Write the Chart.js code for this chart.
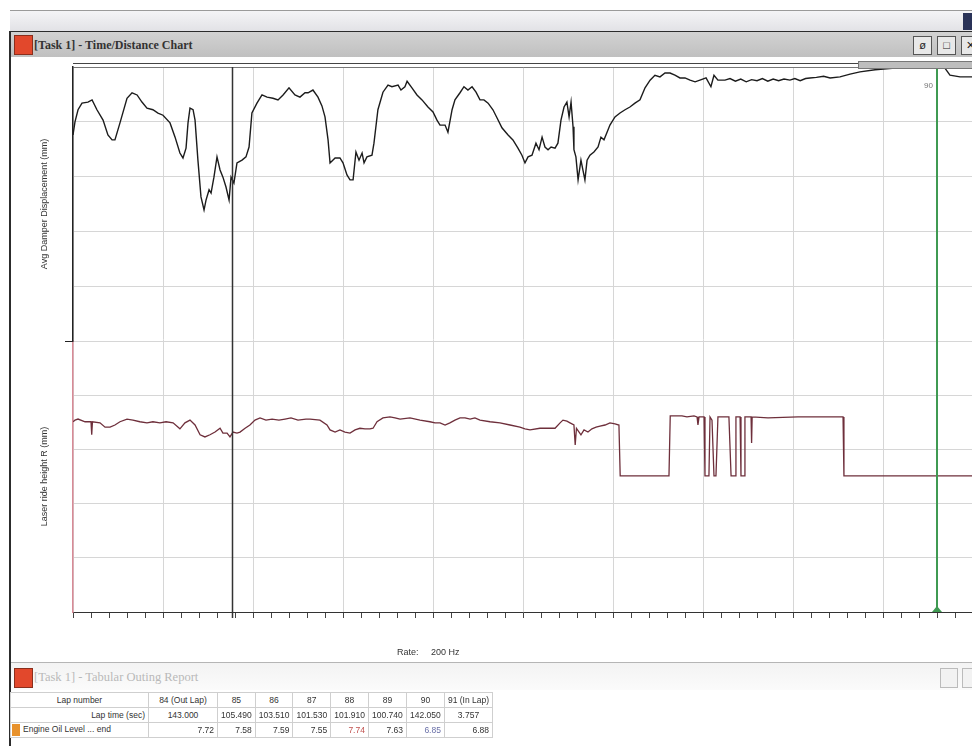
<!DOCTYPE html>
<html lang="en">
<head>
<meta charset="UTF-8">
<title>[Task 1] - Time/Distance Chart</title>
<script src="https://cdn.jsdelivr.net/npm/chart.js"></script>
<style>
    html, body { margin: 0; padding: 0; background: #fff; overflow: hidden; width: 972px; height: 746px;
                 font-family: "Liberation Sans", Arial, sans-serif; }
    .abs { position: absolute; }
    /* window chrome */
    #appbar { left: 10px; top: 10px; width: 970px; height: 20px; border-top: 1px solid #9a9a9a;
              background: linear-gradient(#f4f4f6, #e2e2e6); }
    #appicon { left: 963px; top: 13px; width: 12px; height: 17px; background: #2a3358; }
    #frameLeft { left: 9px; top: 31px; width: 2px; height: 715px; background: #2c2c2c; }
    #titlebar { left: 11px; top: 31px; width: 970px; height: 25px; border-top: 1px solid #2c2c2c;
                background: linear-gradient(#d2d2d2, #c0c0c0); }
    .icon { width: 17px; height: 18px; background: #e2482c; border: 1px solid #8a2e1c; }
    .ttl { font-family: "Liberation Serif", "Times New Roman", serif; font-size: 12px; font-weight: bold;
           color: #333; white-space: nowrap; }
    .btn { width: 17px; height: 17px; border: 1px solid #555; background: #e8e8e8;
           font-size: 11px; line-height: 17px; text-align: center; color: #222; }
    #plotTop { left: 73px; top: 63px; width: 900px; height: 0; border-top: 1px solid #444; }
    #lapBand { left: 858px; top: 61px; width: 120px; height: 6px; background: #bdbdbd; border: 1px solid #777; }
    #rate { left: 397px; top: 647px; font-size: 9px; color: #333; white-space: pre; }
    /* lower panel */
    #sep { left: 11px; top: 662px; width: 970px; height: 0; border-top: 1px solid #b5b5b5; }
    #tabbar { left: 11px; top: 663px; width: 970px; height: 27px; background: linear-gradient(#f3f3f3, #fbfbfb); }
    .fbtn { width: 16px; height: 18px; border: 1px solid #bbb; background: #f2f2f2; }
    table { border-collapse: collapse; font-size: 8.5px; color: #333; table-layout: fixed; }
    td { border: 1px solid #cfcfcf; height: 14px; padding: 0 3px; white-space: nowrap; overflow: hidden; }
    #outing { left: 10px; top: 692px; }
</style>
</head>
<body>
    <div class="abs" id="appbar"></div>
    <div class="abs" id="appicon"></div>
    <div class="abs" id="titlebar"></div>
    <div class="abs icon" style="left:14px; top:35px;"></div>
    <div class="abs ttl" style="left:34px; top:38px;">[Task 1] - Time/Distance Chart</div>
    <div class="abs btn" style="left:913px; top:36px;">&#248;</div>
    <div class="abs btn" style="left:937px; top:36px;">&#9633;</div>
    <div class="abs btn" style="left:961px; top:36px;">&#10005;</div>
    <div class="abs" id="frameLeft"></div>

    <canvas id="tdChart" class="abs" style="left:12px; top:60px;" width="961" height="600"></canvas>
    <div class="abs" id="plotTop"></div>
    <div class="abs" id="lapBand"></div>
    <div class="abs" id="rate">Rate:     200 Hz</div>

    <div class="abs" id="sep"></div>
    <div class="abs" id="tabbar"></div>
    <div class="abs icon" style="left:14px; top:668px;"></div>
    <div class="abs ttl" style="left:34px; top:670px; color:#b9b9b9; font-weight:normal; font-size:12.5px;">[Task 1] - Tabular Outing Report</div>
    <div class="abs fbtn" style="left:940px; top:668px;"></div>
    <div class="abs fbtn" style="left:962px; top:668px;"></div>
    <table class="abs" id="outing"></table>

<script>
    // distance (m) / value (mm)
    const damperTrace = [[0,37.6],[11,40.0],[28,42.2],[50,43.4],[83,43.6],[106,44.0],[133,42.2],[167,40.3],[194,37.6],[217,36.7],[233,36.7],[261,39.8],[300,44.3],[328,45.3],[356,44.9],[383,43.6],[411,42.5],[444,42.2],[472,41.6],[500,41.2],[539,39.8],[567,37.2],[594,34.3],[611,33.4],[628,35.2],[639,39.8],[650,42.5],[667,42.2],[678,40.3],[694,33.0],[711,26.3],[728,23.9],[739,25.7],[756,27.6],[767,27.0],[783,29.9],[800,33.6],[817,31.2],[833,29.9],[850,28.1],[867,25.7],[878,29.9],[894,28.8],[911,32.5],[939,33.0],[961,33.6],[978,35.4],[994,41.6],[1022,43.4],[1050,44.9],[1078,44.5],[1111,44.3],[1139,44.0],[1167,44.9],[1200,46.2],[1233,44.9],[1261,44.5],[1289,45.3],[1306,45.3],[1333,45.8],[1361,44.5],[1383,42.9],[1400,40.9],[1417,36.7],[1428,32.5],[1456,33.4],[1483,33.4],[1500,32.5],[1522,30.3],[1539,29.4],[1556,29.4],[1572,34.5],[1589,33.0],[1606,34.3],[1617,32.5],[1633,33.6],[1661,33.9],[1672,36.1],[1694,42.2],[1722,45.4],[1750,46.7],[1772,46.4],[1806,46.7],[1822,45.8],[1844,46.4],[1856,47.4],[1883,46.2],[1911,44.9],[1939,44.0],[1972,42.7],[2000,41.8],[2022,40.3],[2039,39.4],[2067,39.4],[2083,38.1],[2106,42.2],[2122,44.0],[2150,45.3],[2172,46.4],[2194,45.8],[2217,46.4],[2239,45.4],[2261,44.0],[2283,44.0],[2306,43.4],[2333,42.2],[2356,40.7],[2383,38.9],[2417,37.6],[2444,36.7],[2472,35.2],[2494,33.9],[2511,32.5],[2528,33.6],[2550,33.9],[2572,36.1],[2589,34.9],[2606,37.2],[2622,35.4],[2639,34.9],[2656,35.4],[2678,35.2],[2694,36.1],[2711,40.3],[2728,42.7],[2744,43.6],[2756,40.9],[2767,43.6],[2778,39.1],[2783,34.9],[2794,33.6],[2806,29.4],[2822,33.0],[2833,31.2],[2844,29.4],[2856,33.0],[2872,33.9],[2894,34.5],[2917,35.4],[2933,37.2],[2950,36.7],[2967,38.1],[2983,39.4],[3011,40.9],[3039,41.6],[3067,42.2],[3094,42.7],[3122,43.4],[3150,44.0],[3178,46.2],[3206,47.6],[3233,48.5],[3261,48.2],[3289,48.9],[3317,48.9],[3344,48.5],[3372,48.0],[3400,48.0],[3428,47.6],[3456,47.3],[3483,47.6],[3517,48.0],[3544,46.4],[3561,48.5],[3583,47.6],[3622,47.6],[3650,47.9],[3680,47.4],[3710,47.8],[3740,47.3],[3770,47.7],[3800,47.5],[3830,47.9],[3860,47.4],[3890,47.8],[3920,47.5],[3950,47.8],[3983,47.6],[4010,47.9],[4040,47.5],[4070,47.9],[4094,48.0],[4130,48.1],[4170,48.3],[4206,48.0],[4261,48.2],[4317,48.7],[4372,49.1],[4456,49.5],[4567,49.8],[4706,50.0],[4789,50.0],[4844,49.8],[4872,48.5],[4928,48.2],[5000,48.2]];

    const rideHeightTrace = [[0,35.1],[11,35.4],[28,35.6],[67,35.1],[100,35.1],[104,32.7],[108,35.1],[150,34.9],[178,34.1],[206,34.1],[233,34.5],[261,35.1],[300,35.6],[333,35.4],[372,35.1],[411,34.9],[444,35.1],[483,34.9],[517,35.1],[556,34.9],[594,33.8],[622,34.9],[650,35.4],[678,34.5],[706,32.7],[733,32.3],[761,32.7],[789,33.2],[817,33.9],[833,33.0],[856,33.0],[872,32.3],[889,33.2],[911,33.0],[928,33.2],[956,33.9],[983,34.5],[1011,35.4],[1039,35.8],[1072,35.4],[1106,35.6],[1144,35.4],[1178,35.6],[1211,35.8],[1250,35.4],[1294,35.6],[1317,35.6],[1372,35.4],[1411,34.5],[1428,33.6],[1456,33.2],[1483,33.6],[1511,33.2],[1539,33.0],[1567,33.6],[1594,33.9],[1622,33.8],[1650,33.8],[1667,33.9],[1689,35.1],[1722,35.8],[1761,36.0],[1789,35.8],[1817,35.6],[1872,35.8],[1928,35.4],[1983,35.1],[2011,34.9],[2039,34.9],[2067,34.5],[2094,34.9],[2122,35.4],[2150,35.8],[2178,35.8],[2206,35.6],[2233,35.8],[2261,35.4],[2317,35.1],[2372,34.9],[2428,34.5],[2483,34.1],[2511,33.8],[2539,33.6],[2594,33.9],[2650,33.9],[2678,33.9],[2706,34.9],[2722,35.4],[2744,35.2],[2761,34.9],[2783,34.5],[2790,30.8],[2797,33.9],[2822,32.7],[2839,33.6],[2861,33.2],[2883,33.8],[2906,34.1],[2928,34.3],[2956,34.5],[2983,34.9],[3011,34.7],[3033,34.5],[3040,25.1],[3311,25.1],[3318,36.2],[3383,36.2],[3411,36.0],[3450,36.2],[3467,36.0],[3472,34.5],[3478,36.0],[3506,36.0],[3511,25.1],[3533,25.1],[3539,36.0],[3550,35.4],[3561,25.1],[3572,25.1],[3583,36.0],[3644,36.0],[3656,25.1],[3678,25.1],[3683,36.0],[3706,36.0],[3711,25.1],[3728,25.1],[3733,36.0],[3767,36.0],[3770,31.2],[3773,36.0],[3861,35.8],[4028,36.0],[4194,36.0],[4278,36.0],[4283,25.1],[5000,25.1]];

    const cursorDistance = 883;
    const lapMarkerDistance = 4800;
    const lapMarkerLabel = '90';

    // tabular outing report
    const lapNumbers = ['84 (Out Lap)', '85', '86', '87', '88', '89', '90', '91 (In Lap)'];
    const lapTimes = ['143.000', '105.490', '103.510', '101.530', '101.910', '100.740', '142.050', '3.757'];
    const oilLevelEnd = ['7.72', '7.58', '7.59', '7.55', '7.74', '7.63', '6.85', '6.88'];

    const toPoints = arr => arr.map(p => ({ x: p[0], y: p[1] }));

    // cursor + lap marker lines
    const markerPlugin = {
        id: 'markers',
        afterDatasetsDraw(chart) {
            const { ctx, chartArea, scales } = chart;
            const xc = Math.round(scales.x.getPixelForValue(cursorDistance)) + 0.5;
            const xl = Math.round(scales.x.getPixelForValue(lapMarkerDistance));
            ctx.save();
            ctx.strokeStyle = '#333';
            ctx.lineWidth = 1.5;
            ctx.beginPath();
            ctx.moveTo(xc, chartArea.top);
            ctx.lineTo(xc, chartArea.bottom + 6);
            ctx.stroke();

            ctx.strokeStyle = '#3f9a52';
            ctx.lineWidth = 2;
            ctx.beginPath();
            ctx.moveTo(xl, chartArea.top);
            ctx.lineTo(xl, chartArea.bottom);
            ctx.stroke();
            ctx.fillStyle = '#3f9a52';
            ctx.beginPath();
            ctx.moveTo(xl - 5, chartArea.bottom);
            ctx.lineTo(xl + 5, chartArea.bottom);
            ctx.lineTo(xl, chartArea.bottom - 6);
            ctx.closePath();
            ctx.fill();

            ctx.fillStyle = '#777';
            ctx.font = '8px "Liberation Sans"';
            ctx.textAlign = 'right';
            ctx.fillText(lapMarkerLabel, xl - 4, chartArea.top + 21);
            ctx.restore();
        }
    };

    const ctx = document.getElementById('tdChart').getContext('2d');
    const tdChart = new Chart(ctx, {
        type: 'line',
        data: {
            datasets: [
                {
                    label: 'Laser ride height R',
                    data: toPoints(rideHeightTrace),
                    yAxisID: 'yRide',
                    borderColor: '#6e2f3b',
                    borderWidth: 1.3,
                    pointRadius: 0,
                    tension: 0
                },
                {
                    label: 'Avg Damper Displacement',
                    data: toPoints(damperTrace),
                    yAxisID: 'yDamper',
                    borderColor: '#1c1c1c',
                    borderWidth: 1.4,
                    pointRadius: 0,
                    tension: 0
                }
            ]
        },
        options: {
            responsive: false,
            animation: false,
            layout: { padding: { top: 7, right: 0, left: 0, bottom: 0 } },
            plugins: { legend: { display: false }, tooltip: { enabled: false } },
            scales: {
                x: {
                    type: 'linear',
                    min: 0,
                    max: 5000,
                    ticks: { display: false, stepSize: 100, maxTicksLimit: 100, autoSkip: false },
                    grid: {
                        color: c => (c.tick && c.tick.value % 500 === 0) ? '#d6d6d6' : 'rgba(0,0,0,0)',
                        tickColor: '#444',
                        tickLength: 6
                    },
                    border: { color: '#333', width: 1 },
                    afterFit: s => { s.height = 48; }
                },
                yRide: {
                    type: 'linear',
                    position: 'left',
                    stack: 'td',
                    stackWeight: 271,
                    weight: 1,
                    min: 0,
                    max: 50,
                    ticks: { display: false, stepSize: 10 },
                    grid: { color: '#d6d6d6', drawTicks: false },
                    border: { color: '#d88a96', width: 1.5 },
                    title: {
                        display: true,
                        text: 'Laser ride height R (mm)',
                        color: '#333',
                        font: { family: 'Liberation Sans', size: 9 },
                        padding: { top: 27, bottom: 0 }
                    },
                    afterFit: s => { s.width = 61; }
                },
                yDamper: {
                    type: 'linear',
                    position: 'left',
                    stack: 'td',
                    stackWeight: 274,
                    weight: 2,
                    min: 0,
                    max: 50,
                    ticks: { display: false, stepSize: 10 },
                    grid: {
                        color: c => (c.tick && c.tick.value === 50) ? '#777' : '#d6d6d6',
                        tickColor: c => (c.tick && c.tick.value === 0) ? '#222' : 'rgba(0,0,0,0)',
                        tickLength: 8
                    },
                    border: { color: '#222', width: 1.5 },
                    title: {
                        display: true,
                        text: 'Avg Damper Displacement (mm)',
                        color: '#333',
                        font: { family: 'Liberation Sans', size: 9 },
                        padding: { top: 27, bottom: 0 }
                    },
                    afterFit: s => { s.width = 61; }
                }
            }
        },
        plugins: [markerPlugin]
    });

    // build the outing table from the arrays
    const colWidths = [138, 69, 37, 36, 37, 37, 38, 38, 48];
    const table = document.getElementById('outing');
    const cg = document.createElement('colgroup');
    colWidths.forEach(w => { const c = document.createElement('col'); c.style.width = w + 'px'; cg.appendChild(c); });
    table.appendChild(cg);

    function addRow(head, headAlign, values, align, colors) {
        const tr = document.createElement('tr');
        const th = document.createElement('td');
        th.style.textAlign = headAlign;
        th.innerHTML = head;
        tr.appendChild(th);
        values.forEach((v, i) => {
            const td = document.createElement('td');
            td.textContent = v;
            td.style.textAlign = align;
            if (colors && colors[i]) td.style.color = colors[i];
            tr.appendChild(td);
        });
        table.appendChild(tr);
    }
    addRow('Lap number', 'center', lapNumbers, 'center');
    addRow('Lap time (sec)', 'right', lapTimes, 'center');
    addRow('<span style="display:inline-block;width:8px;height:12px;background:#e8922c;vertical-align:middle;margin:0 3px 0 -2px"></span>Engine Oil Level ... end',
        'left', oilLevelEnd, 'right', [null, null, null, null, '#c0504d', null, '#6a70a8', null]);
</script>
</body>
</html>
